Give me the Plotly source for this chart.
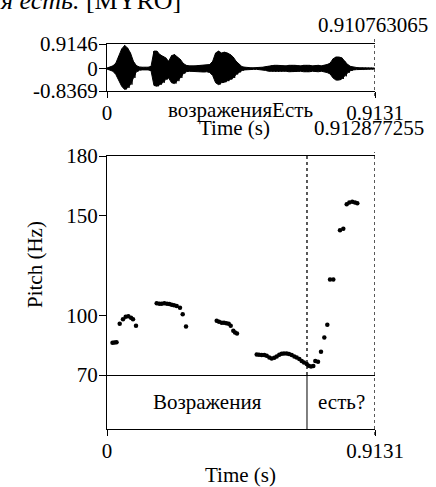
import plotly.graph_objects as go

W, H = 436, 487
FONT = "Liberation Serif"

# ---- data ----
duration = 0.9131
wave_ymin, wave_ymax = -0.8369, 0.9146
wave_t = [0.00, 0.01, 0.02, 0.03, 0.04, 0.05, 0.06, 0.07, 0.08, 0.09,
          0.10, 0.11, 0.12, 0.13, 0.14, 0.15, 0.16, 0.17, 0.18, 0.19,
          0.20, 0.21, 0.22, 0.23, 0.24, 0.25, 0.26, 0.27, 0.28, 0.29,
          0.30, 0.31, 0.32, 0.33, 0.34, 0.35, 0.36, 0.37, 0.38, 0.39,
          0.40, 0.41, 0.42, 0.43, 0.44, 0.45, 0.46, 0.47, 0.48, 0.49,
          0.50, 0.51, 0.52, 0.53, 0.54, 0.55, 0.56, 0.57, 0.58, 0.59,
          0.60, 0.61, 0.62, 0.63, 0.64, 0.65, 0.66, 0.67, 0.68, 0.69,
          0.70, 0.71, 0.72, 0.73, 0.74, 0.75, 0.76, 0.77, 0.78, 0.79,
          0.80, 0.81, 0.82, 0.83, 0.84, 0.85, 0.86, 0.87, 0.88, 0.89,
          0.90, 0.91]
wave_hi = [0.02, 0.05, 0.10, 0.20, 0.46, 0.73, 0.86, 0.77, 0.58, 0.27,
           0.11, 0.06, 0.05, 0.04, 0.05, 0.08, 0.65, 0.65, 0.52, 0.46,
           0.40, 0.27, 0.48, 0.52, 0.43, 0.34, 0.19, 0.12, 0.10, 0.09,
           0.10, 0.11, 0.12, 0.13, 0.12, 0.15, 0.27, 0.58, 0.65, 0.58,
           0.61, 0.58, 0.52, 0.43, 0.27, 0.15, 0.07, 0.05, 0.03, 0.03,
           0.03, 0.03, 0.04, 0.05, 0.07, 0.09, 0.11, 0.12, 0.12, 0.11,
           0.10, 0.10, 0.12, 0.13, 0.12, 0.11, 0.10, 0.12, 0.13, 0.12,
           0.10, 0.11, 0.12, 0.10, 0.12, 0.15, 0.20, 0.36, 0.43, 0.43,
           0.40, 0.27, 0.15, 0.08, 0.05, 0.04, 0.03, 0.03, 0.02, 0.02,
           0.02, 0.02]
wave_lo = [-0.02, -0.05, -0.10, -0.22, -0.41, -0.66, -0.78, -0.72, -0.60, -0.35,
           -0.12, -0.06, -0.05, -0.04, -0.05, -0.08, -0.63, -0.66, -0.60, -0.53,
           -0.41, -0.35, -0.53, -0.56, -0.47, -0.35, -0.19, -0.12, -0.10, -0.09,
           -0.10, -0.11, -0.12, -0.13, -0.12, -0.15, -0.26, -0.53, -0.60, -0.53,
           -0.51, -0.47, -0.41, -0.35, -0.22, -0.14, -0.07, -0.05, -0.03, -0.03,
           -0.03, -0.03, -0.04, -0.05, -0.07, -0.10, -0.11, -0.12, -0.12, -0.11,
           -0.10, -0.10, -0.12, -0.13, -0.12, -0.11, -0.10, -0.12, -0.13, -0.12,
           -0.10, -0.11, -0.12, -0.10, -0.12, -0.15, -0.20, -0.35, -0.43, -0.43,
           -0.39, -0.29, -0.16, -0.08, -0.05, -0.04, -0.03, -0.03, -0.02, -0.02,
           -0.02, -0.02]

pitch_t = [0.0187, 0.0256, 0.0324, 0.0433, 0.0545, 0.0637, 0.0726, 0.0818, 0.0886, 0.0988,
           0.1693, 0.1782, 0.1864, 0.1952, 0.2044, 0.2123, 0.2204, 0.2283, 0.2375, 0.2487,
           0.2579, 0.2692,
           0.3738, 0.3816, 0.3908, 0.3986, 0.4065, 0.4146, 0.4215, 0.4303, 0.4361, 0.4429,
           0.5100, 0.5179, 0.5271, 0.5359, 0.5441, 0.5530, 0.5611, 0.5700, 0.5782, 0.5870,
           0.5952, 0.6031, 0.6123, 0.6201, 0.6293, 0.6382, 0.6463, 0.6552, 0.6634, 0.6712,
           0.6804, 0.6872, 0.6950, 0.7029, 0.7097, 0.7189, 0.7291, 0.7404, 0.7506,
           0.7598, 0.7710, 0.7938, 0.8051, 0.8167, 0.8256, 0.8357, 0.8449, 0.8528]
pitch_hz = [86.2, 86.3, 86.5, 95.8, 98.0, 99.3, 99.5, 98.8, 98.0, 94.7,
            106.0, 105.8, 105.8, 106.0, 105.8, 105.7, 105.3, 105.0, 104.7, 103.8,
            100.5, 94.3,
            97.2, 96.7, 96.3, 96.2, 96.0, 95.7, 94.7, 92.2, 91.3, 90.8,
            80.3, 80.2, 80.0, 80.0, 79.7, 78.8, 78.3, 78.7, 79.3, 80.2,
            80.7, 80.8, 80.8, 80.5, 80.0, 79.3, 78.8, 78.0, 77.0, 76.3,
            75.5, 74.7, 74.3, 74.5, 77.0, 76.7, 81.7, 88.8, 95.3,
            118.0, 118.0, 142.7, 143.5, 155.8, 156.7, 157.0, 156.7, 156.3]
pitch_min, pitch_max = 70, 180
pitch_ticks = [70, 100, 150, 180]

tier_bounds = [0, 0.6814, 0.9131]
tier_labels = ["Возражения", "есть?"]

cursor_top = "0.910763065"
cursor_bottom = "0.912877255"
wave_label = "возраженияEсть"
caption_italic = "Возражения есть."
caption_plain = " [MYRO]"

# ---- layout helpers ----
def px(x):
    return x / W

def py(y):
    return 1 - y / H

L, R = 107, 375
dom_x = [px(L), px(R)]

# waveform: filled envelope plus zigzag strokes
poly_x = list(wave_t) + list(reversed(wave_t))
poly_y = list(wave_hi) + list(reversed(wave_lo))
wx, wy = [], []
for t, hi, lo in zip(wave_t, wave_hi, wave_lo):
    wx += [t, t + 0.005]
    wy += [hi, lo]

fig = go.Figure()
fig.add_trace(go.Scatter(x=poly_x, y=poly_y, mode="lines", fill="toself", fillcolor="black",
                         line=dict(color="black", width=1), xaxis="x", yaxis="y",
                         showlegend=False, hoverinfo="skip"))
fig.add_trace(go.Scatter(x=wx, y=wy, mode="lines", line=dict(color="black", width=1),
                         xaxis="x", yaxis="y", showlegend=False, hoverinfo="skip"))
fig.add_trace(go.Scatter(x=pitch_t, y=pitch_hz, mode="markers",
                         marker=dict(color="black", size=4.5),
                         xaxis="x2", yaxis="y2", showlegend=False))

axfont = dict(family=FONT, size=21, color="black")
common_line = dict(showline=True, linecolor="black", linewidth=1, showgrid=False,
                   zeroline=False, automargin=False)

fig.update_layout(
    template="none",
    width=W, height=H, margin=dict(l=0, r=0, t=0, b=0, pad=0), autosize=False,
    paper_bgcolor="white", plot_bgcolor="white",
    font=axfont, showlegend=False,
    xaxis=dict(domain=dom_x, range=[0, duration], anchor="y", mirror=True,
               tickvals=[0, duration], ticktext=["0", "0.9131"], ticks="outside",
               ticklen=6, tickcolor="black", tickfont=axfont, ticklabelstandoff=-3,
               **common_line),
    yaxis=dict(domain=[py(91), py(44)], range=[wave_ymin, wave_ymax], anchor="x",
               tickvals=[wave_ymin, 0, wave_ymax], ticktext=["-0.8369", "0", "0.9146"],
               ticks="outside", ticklen=7, tickcolor="black", tickfont=axfont,
               ticklabelstandoff=-3, **common_line),
    xaxis2=dict(domain=dom_x, range=[0, duration], anchor="y2", mirror=True,
                showticklabels=False, ticks="", **common_line),
    yaxis2=dict(domain=[py(375), py(156)], range=[pitch_min, pitch_max], anchor="x2",
                tickvals=pitch_ticks, ticks="outside", ticklen=7, tickcolor="black",
                tickfont=axfont, ticklabelstandoff=-3, **common_line),
    xaxis3=dict(domain=dom_x, range=[0, duration], anchor="y3",
                tickvals=[0, duration], ticktext=["0", "0.9131"], ticks="outside",
                ticklen=6, tickcolor="black", tickfont=axfont, ticklabelstandoff=-3,
                **common_line),
    yaxis3=dict(domain=[py(429), py(375)], range=[0, 1], anchor="x3",
                showticklabels=False, ticks="", **common_line),
)

shapes = []
shapes.append(dict(type="line", xref="x", yref="paper", x0=duration, x1=duration,
                   y0=py(96), y1=py(38), line=dict(color="black", width=1.3, dash="dot")))
shapes.append(dict(type="line", xref="x2", yref="paper", x0=duration, x1=duration,
                   y0=py(435), y1=py(152), line=dict(color="black", width=1.3, dash="dot")))
for b in tier_bounds[1:-1]:
    shapes.append(dict(type="line", xref="x2", yref="paper", x0=b, x1=b,
                       y0=py(375), y1=py(156), line=dict(color="black", width=1.3, dash="dot")))
    shapes.append(dict(type="line", xref="x3", yref="paper", x0=b, x1=b,
                       y0=py(429), y1=py(375), line=dict(color="black", width=1)))
fig.update_layout(shapes=shapes)

def label(x, y, text, **kw):
    d = dict(x=px(x), y=py(y), xref="paper", yref="paper", text=text, showarrow=False,
             xanchor="center", yanchor="middle", font=axfont)
    d.update(kw)
    return d

ann = []
for a, b, lab in zip(tier_bounds[:-1], tier_bounds[1:], tier_labels):
    ann.append(dict(x=(a + b) / 2, y=0.5, xref="x3", yref="y3", text=lab,
                    xanchor="center", yanchor="middle", showarrow=False, font=axfont))
ann.append(label(373, 25, cursor_top))
ann.append(label(369, 128, cursor_bottom))
ann.append(label(240, 110, wave_label))
ann.append(label(234, 128, "Time (s)"))
ann.append(label(241, 475, "Time (s)"))
ann.append(label(35, 265, "Pitch (Hz)", textangle=-90))
ann.append(label(183, 17, "<i>" + caption_italic + "</i>" + caption_plain,
                 xanchor="right", yanchor="bottom",
                 font=dict(family=FONT, size=26, color="black")))
fig.update_layout(annotations=ann)

fig.write_html("out.html", config={"displayModeBar": False},
               post_script="document.body.style.margin='0';document.body.style.overflow='hidden';")
